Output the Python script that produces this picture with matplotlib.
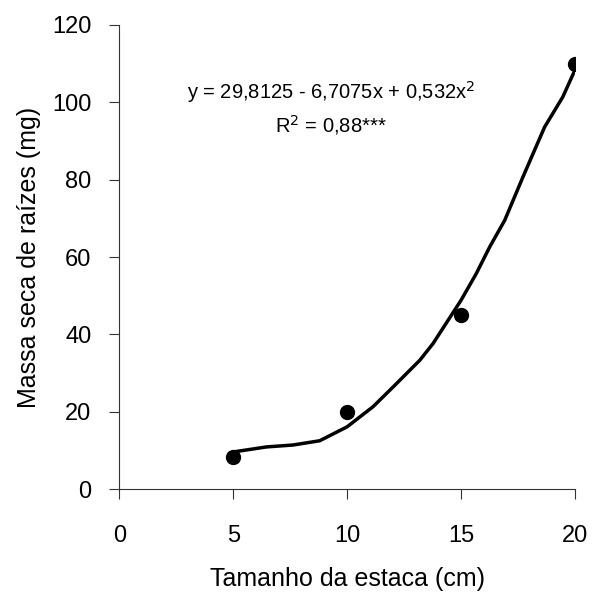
import matplotlib.pyplot as plt

# observed means
tamanho = [5, 10, 15, 20]
massa = [8.3, 19.9, 45.0, 109.8]

# fitted curve as drawn
curva_x = [5, 6.46, 7.63, 8.8, 10, 11.14, 12.02, 13.19, 13.77, 15, 15.67,
           16.26, 16.92, 17.72, 18.67, 19.47, 20]
curva_y = [9.6, 10.9, 11.4, 12.5, 16.1, 21.3, 26.4, 33.3, 37.6, 48.8, 55.7,
           62.6, 69.5, 80.7, 93.6, 101.4, 108.3]

x_ticks = [0, 5, 10, 15, 20]
y_ticks = [0, 20, 40, 60, 80, 100, 120]

plt.rcParams['font.family'] = ['Liberation Sans', 'DejaVu Sans']

fig = plt.figure(figsize=(5.94, 5.95), dpi=100)
ax = fig.add_axes([0.2008, 0.178, 0.767, 0.780])

ax.plot(curva_x, curva_y, color='black', lw=2.5, solid_capstyle='round')
ax.plot(tamanho, massa, 'o', color='black', markersize=10)

ax.set_xlim(0, 20)
ax.set_ylim(0, 120)
ax.set_xticks(x_ticks)
ax.set_yticks(y_ticks)
ax.tick_params(axis='both', labelsize=17, length=7, width=0.8, color='#333333')
ax.tick_params(axis='x', pad=19)
ax.tick_params(axis='y', pad=13)
for s in ['top', 'right']:
    ax.spines[s].set_visible(False)
for s in ['left', 'bottom']:
    ax.spines[s].set_color('#333333')
    ax.spines[s].set_linewidth(0.8)

ax.set_xlabel('Tamanho da estaca (cm)', fontsize=18, labelpad=14)
ax.set_ylabel('Massa seca de raízes (mg)', fontsize=18, labelpad=8)

ax.text(9.3, 102.6, 'y = 29,8125 - 6,7075x + 0,532x$^2$', fontsize=14.5,
        ha='center', va='center')
ax.text(9.3, 94, 'R$^2$ = 0,88***', fontsize=14.5, ha='center', va='center')

fig.savefig('out.png', dpi=100)
